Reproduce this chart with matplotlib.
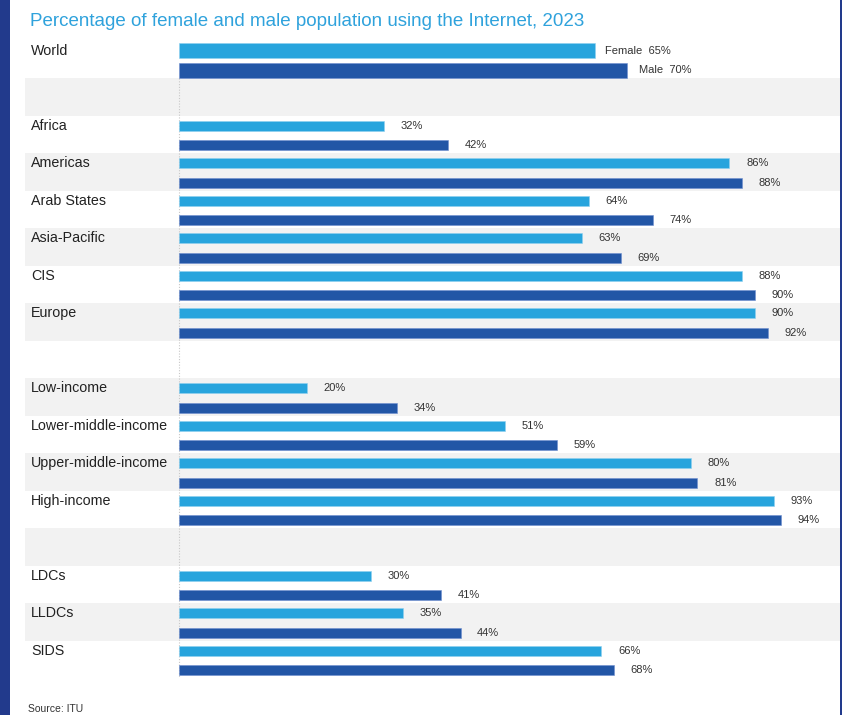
import matplotlib
matplotlib.use("Agg")
import matplotlib.pyplot as plt
from matplotlib.patches import Rectangle
import matplotlib.transforms as mtransforms

plt.rcParams['font.family'] = ['Liberation Sans', 'DejaVu Sans']

# ---- data ----
categories = ["World", "", "Africa", "Americas", "Arab States", "Asia-Pacific", "CIS", "Europe", "",
              "Low-income", "Lower-middle-income", "Upper-middle-income", "High-income", "",
              "LDCs", "LLDCs", "SIDS"]
female = [65, None, 32, 86, 64, 63, 88, 90, None, 20, 51, 80, 93, None, 30, 35, 66]
male = [70, None, 42, 88, 74, 69, 90, 92, None, 34, 59, 81, 94, None, 41, 44, 68]
title = "Percentage of female and male population using the Internet, 2023"
source = "Source: ITU"

# ---- style ----
C_F = "#27a4dd"
C_M = "#2256a6"
C_BAND = "#f2f2f2"
C_NAVY = "#223a8c"
C_TITLE = "#2fa2dc"

W, H = 842, 715
fig = plt.figure(figsize=(W / 100, H / 100), dpi=100)
fig.patch.set_facecolor("white")

# axes from x=25..840 px, y=40.5..678 px
x0, x1 = 25, 840
y_top, y_bot = 40.5, 678
ax = fig.add_axes([x0 / W, 1 - y_bot / H, (x1 - x0) / W, (y_bot - y_top) / H])
ppu = 6.4  # px per percent
zero_px = 179
ax.set_xlim(-(zero_px - x0) / ppu, (x1 - zero_px) / ppu)
n = len(categories)
ax.set_ylim(n, 0)
ax.axis("off")

# bands
for i in range(n):
    if i % 2 == 1:
        ax.axhspan(i, i + 1, color=C_BAND, lw=0, zorder=0)

# dotted zero line
ax.plot([0, 0], [1, n], ls=(0, (1, 1.5)), color="#c8c8c8", lw=0.8, zorder=1)

blend = mtransforms.blended_transform_factory(ax.transAxes, ax.transData)
fc, mc = 0.27, 0.79
for i, cat in enumerate(categories):
    if cat:
        ax.text(6 / (x1 - x0), i + fc, cat, transform=blend, va="center", ha="left",
                fontsize=10.3, color="#222222")
    if female[i] is None:
        continue
    h = 0.40 if i == 0 else 0.27
    ax.barh(i + fc, female[i], height=h, color=C_F, edgecolor="#8fd0ef", lw=0.4, zorder=2)
    ax.barh(i + mc, male[i], height=h, color=C_M, edgecolor="#6f8fcf", lw=0.4, zorder=2)
    if i == 0:
        ax.text(female[i] + 1.6, i + fc, f"Female  {female[i]}%", va="center", ha="left",
                fontsize=8, color="#333333")
        ax.text(male[i] + 1.9, i + mc, f"Male  {male[i]}%", va="center", ha="left",
                fontsize=8, color="#333333")
    else:
        ax.text(female[i] + 2.6, i + fc, f"{female[i]}%", va="center", ha="left",
                fontsize=8, color="#333333")
        ax.text(male[i] + 2.6, i + mc, f"{male[i]}%", va="center", ha="left",
                fontsize=8, color="#333333")

# title & source
fig.text(30 / W, 1 - 21 / H, title, color=C_TITLE, fontsize=13.5, va="center", ha="left")
fig.text(28 / W, 1 - 709 / H, source, color="#333333", fontsize=7.5, va="center", ha="left")

# borders
fig.patches.append(Rectangle((0, 0), 10 / W, 1, transform=fig.transFigure,
                             color=C_NAVY, lw=0, zorder=5))
fig.patches.append(Rectangle((840 / W, 0), 2 / W, 1, transform=fig.transFigure,
                             color=C_NAVY, lw=0, zorder=5))

fig.savefig("out.png", dpi=100, facecolor="white")
